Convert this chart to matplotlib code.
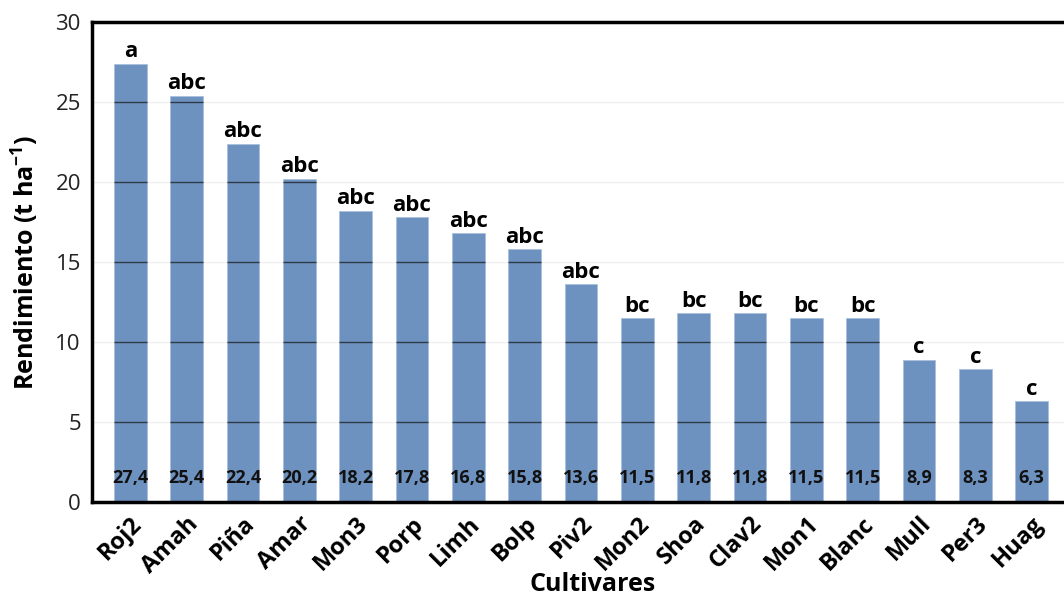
import matplotlib
matplotlib.use('Agg')
import matplotlib.pyplot as plt
import numpy as np

cultivares = ['Roj2', 'Amah', 'Piña', 'Amar', 'Mon3', 'Porp', 'Limh', 'Bolp', 'Piv2',
              'Mon2', 'Shoa', 'Clav2', 'Mon1', 'Blanc', 'Mull', 'Per3', 'Huag']
rendimiento = [27.4, 25.4, 22.4, 20.2, 18.2, 17.8, 16.8, 15.8, 13.6,
               11.5, 11.8, 11.8, 11.5, 11.5, 8.9, 8.3, 6.3]
letras = ['a', 'abc', 'abc', 'abc', 'abc', 'abc', 'abc', 'abc', 'abc',
          'bc', 'bc', 'bc', 'bc', 'bc', 'c', 'c', 'c']
y_ticks = [0, 5, 10, 15, 20, 25, 30]

plt.rcParams['font.family'] = ['Open Sans', 'DejaVu Sans']

BAR_COLOR = '#6E92C0'
BAR_W = 0.585

fig = plt.figure(figsize=(10.64, 5.98), dpi=100)
# axes right edge runs slightly past the picture, as in the original crop
ax = fig.add_axes([92 / 1064, (598 - 502) / 598, (1070 - 92) / 1064, 480 / 598])

x = np.arange(len(cultivares))
for t in y_ticks[1:]:
    ax.axhline(t, color='#EFEFEF', lw=1, zorder=0)
bars = ax.bar(x, rendimiento, width=BAR_W, color=BAR_COLOR,
              edgecolor='#A9BFDD', linewidth=0.6, zorder=2)

# dark grid segments drawn over the bars
for xi, h in zip(x, rendimiento):
    for t in y_ticks[1:]:
        if t < h:
            ax.hlines(t, xi - BAR_W / 2, xi + BAR_W / 2, color='#2F3A48', lw=1, zorder=3)

for xi, h, lab in zip(x, rendimiento, letras):
    ax.annotate(lab, (xi, h), xytext=(0, 1), textcoords='offset points',
                ha='center', va='bottom', fontsize=16, fontweight='bold', zorder=4)
    ax.text(xi, 1.5, ('%.1f' % h).replace('.', ','), ha='center', va='center',
            fontsize=13, fontweight='bold', color='#111111', zorder=4)

ax.set_xlim(-0.68, len(cultivares) - 1 + 0.68)
ax.set_ylim(0, 30)
ax.set_yticks(y_ticks)
ax.set_yticklabels([str(t) for t in y_ticks], fontsize=16, color='#222222')
ax.set_xticks(x)
ax.set_xticklabels(cultivares, rotation=45, ha='right', va='top',
                   rotation_mode='anchor', fontsize=17, fontweight='bold')
ax.tick_params(axis='both', length=0)
ax.tick_params(axis='y', pad=8)
ax.tick_params(axis='x', pad=7)

for s in ax.spines.values():
    s.set_linewidth(2.5)
    s.set_color('black')

ax.set_ylabel('Rendimiento (t ha$^{\\mathregular{-1}}$)', fontsize=18, fontweight='bold', labelpad=10)
xl = ax.set_xlabel('Cultivares', fontsize=18, fontweight='bold')
xl.set_va('center')
ax.xaxis.set_label_coords(0.512, -0.172)

plt.savefig('out.png', dpi=100)
